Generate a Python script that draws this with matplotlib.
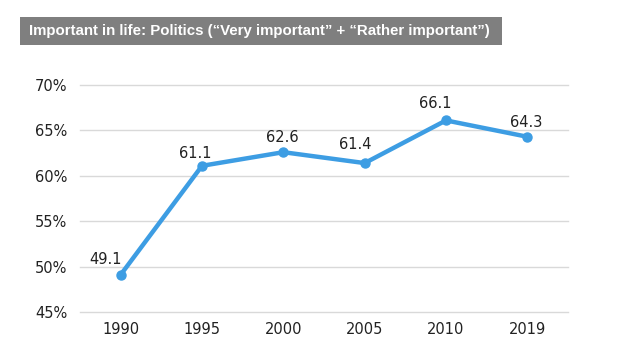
import matplotlib
matplotlib.use("Agg")
import matplotlib.pyplot as plt
from matplotlib.patches import Rectangle

years = ["1990", "1995", "2000", "2005", "2010", "2019"]
values = [49.1, 61.1, 62.6, 61.4, 66.1, 64.3]
yticks = [45, 50, 55, 60, 65, 70]
title = "Important in life: Politics (\u201cVery important\u201d + \u201cRather important\u201d)"

W, H = 621, 362
fig = plt.figure(figsize=(W / 100, H / 100), dpi=100)
fig.patch.set_facecolor("white")

# title box
fig.patches.append(Rectangle((20 / W, 1 - 45 / H), 482 / W, 28 / H,
                             transform=fig.transFigure, facecolor="#7f7f7f",
                             edgecolor="none", zorder=0))
t = fig.text(29 / W, 1 - 31 / H, title, color="white", fontsize=12.5,
             fontweight="bold", va="center", ha="left",
             family=["Liberation Sans", "DejaVu Sans"])
fig.canvas.draw()
r = fig.canvas.get_renderer()
fs = 12.5
while t.get_window_extent(r).width > 466 and fs > 6:
    fs -= 0.1
    t.set_fontsize(fs)

ax = fig.add_axes([80 / W, 1 - 312 / H, 488 / W, (312 - 85) / H])
x = list(range(len(years)))
ax.plot(x, values, color="#3d9de3", lw=3.2, marker="o", ms=6.5,
        solid_capstyle="round", solid_joinstyle="round", zorder=3)
ax.set_xlim(-0.5, len(years) - 0.5)
ax.set_ylim(45, 70)
ax.set_yticks(yticks)
ax.set_yticklabels([f"{v}%" for v in yticks])
ax.set_xticks(x)
ax.set_xticklabels(years)
ax.grid(axis="y", color="#d9d9d9", lw=1)
for gl in ax.get_ygridlines():
    gl.set_clip_on(False)
ax.set_axisbelow(True)
for s in ax.spines.values():
    s.set_visible(False)
for lab in ax.get_xticklabels() + ax.get_yticklabels():
    lab.set_family("DejaVu Sans")
ax.tick_params(length=0, labelsize=10.5, colors="#222222")
ax.tick_params(axis="y", pad=9)
ax.tick_params(axis="x", pad=7)

offsets = [(-15, 15), (-7, 12), (-1, 15), (-9, 19), (-11, 17), (-1, 14)]
for xi, v, off in zip(x, values, offsets):
    ax.annotate(f"{v:.1f}", (xi, v), xytext=off, textcoords="offset pixels",
                ha="center", va="center", fontsize=10.5, color="#222222",
                family="DejaVu Sans")

fig.savefig("out.png", dpi=100)
